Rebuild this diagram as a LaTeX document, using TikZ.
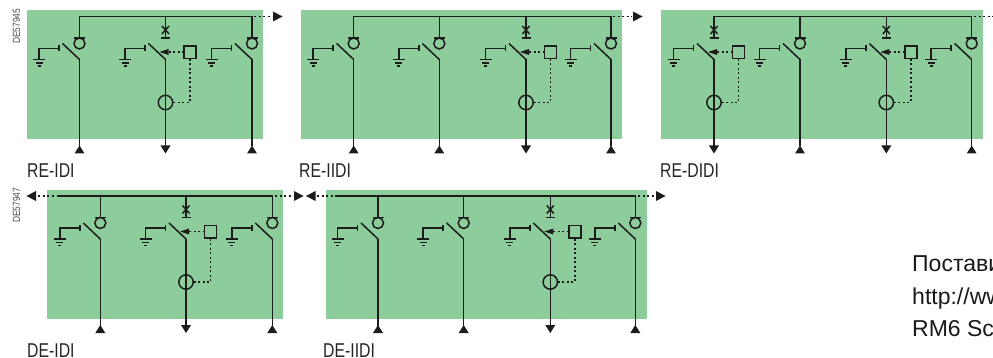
\documentclass[tikz,border=0pt]{standalone}
\usepackage{fontspec}
\setmainfont{Liberation Sans}
\definecolor{panelgreen}{RGB}{141,205,155}
\definecolor{wirecol}{RGB}{28,28,28}
\tikzstyle{panel} = [fill=panelgreen, draw=none]
\tikzstyle{wire} = [line width=1.5pt, draw=wirecol]
\tikzstyle{dots} = [line width=1.5pt, draw=wirecol, dash pattern=on 2pt off 2.5pt]
\tikzstyle{tip} = [fill=wirecol, draw=none]
\tikzstyle{tag} = [anchor=base west, inner sep=0pt, font=\fontsize{20}{20}\selectfont, xscale=0.79, text=black!85]
\tikzstyle{code} = [anchor=west, inner sep=0pt, rotate=90, font=\fontsize{10.5}{10.5}\selectfont, xscale=0.8, text=black!70]
\tikzstyle{note} = [anchor=base west, inner sep=0pt, font=\fontsize{23}{23}\selectfont, text=black!90]
% earth with its open contact
\newcommand{\earth}[2]{
  \draw[wire] (#1-17,#2+27) -- (#1,#2+43);
  \draw[wire] (#1-20.5,#2+32) -- (#1-40.5,#2+32) -- (#1-40.5,#2+42.5);
  \draw[wire] (#1-20.5,#2+29) -- (#1-20.5,#2+35);
  \draw[wire] (#1-46.5,#2+43) -- (#1-34.5,#2+43);
  \draw[wire] (#1-44,#2+46.5) -- (#1-37,#2+46.5);
  \draw[wire] (#1-42,#2+49.7) -- (#1-39,#2+49.7);
}
% load switch unit, #1 is x, #2 is bus y
\newcommand{\loadunit}[2]{
  \earth{#1}{#2}
  \draw[wire] (#1,#2) -- (#1,#2+21.5);
  \draw[wire] (#1-5.5,#2+21.5) -- (#1+5.5,#2+21.5);
  \draw[wire] (#1,#2+27) circle (5.5);
  \draw[wire] (#1,#2+43) -- (#1,#2+130);
  \fill[tip] (#1,#2+129) -- (#1+5,#2+137) -- (#1-5,#2+137) -- cycle;
}
% fuse unit
\newcommand{\fuseunit}[2]{
  \earth{#1}{#2}
  \draw[wire] (#1,#2) -- (#1,#2+21.5);
  \draw[wire] (#1-4.5,#2+21.5) -- (#1+4.5,#2+21.5);
  \draw[wire] (#1-3.5,#2+9.5) -- (#1+3.5,#2+17.5);
  \draw[wire] (#1+3.5,#2+9.5) -- (#1-3.5,#2+17.5);
  \draw[wire] (#1,#2+43) -- (#1,#2+130);
  \draw[wire] (#1,#2+86) circle (7.2);
  \fill[tip] (#1-5,#2+129) -- (#1+5,#2+129) -- (#1,#2+137) -- cycle;
  \fill[tip] (#1-6,#2+35.5) -- (#1+3,#2+32.5) -- (#1+3,#2+38.5) -- cycle;
  \draw[dots] (#1+3,#2+35.5) -- (#1+18,#2+35.5);
  \draw[wire] (#1+18.5,#2+29.5) rectangle (#1+30.5,#2+41.8);
  \draw[dots] (#1+24.5,#2+42.5) -- (#1+24.5,#2+86) -- (#1+7.5,#2+86);
}
\newcommand{\tipright}[2]{\fill[tip] (#1,#2-5) -- (#1+9.5,#2) -- (#1,#2+5) -- cycle;}
\newcommand{\tipleft}[2]{\fill[tip] (#1,#2-5) -- (#1-9.5,#2) -- (#1,#2+5) -- cycle;}

\begin{document}
\begin{tikzpicture}[x=1pt, y=-1pt]
\useasboundingbox (0,0) rectangle (993,358);
\clip (0,0) rectangle (993,358);

% first row
\fill[panel] (27,10) rectangle (263,139);
\fill[panel] (301,10) rectangle (622,139);
\fill[panel] (661,10) rectangle (983,139);
\draw[wire] (79.5,16.5) -- (252,16.5);
\draw[dots] (254,16.5) -- (272,16.5);
\tipright{273}{16.5}
\loadunit{79.5}{16.5}
\fuseunit{165.5}{16.5}
\loadunit{252}{16.5}
\draw[wire] (353.7,16.5) -- (611,16.5);
\draw[dots] (613,16.5) -- (632,16.5);
\tipright{633}{16.5}
\loadunit{353.7}{16.5}
\loadunit{439.3}{16.5}
\fuseunit{526}{16.5}
\loadunit{611}{16.5}
\draw[wire] (714,16.5) -- (971.7,16.5);
\draw[dots] (974,16.5) -- (993,16.5);
\fuseunit{714}{16.5}
\loadunit{800}{16.5}
\fuseunit{886.3}{16.5}
\loadunit{971.7}{16.5}

% second row
\fill[panel] (47,190) rectangle (283,319);
\fill[panel] (326,190) rectangle (647,319);
\draw[wire] (56.7,196) -- (273,196);
\draw[dots] (38,196) -- (55,196);
\draw[dots] (275,196) -- (293,196);
\tipleft{36}{196}
\tipright{294}{196}
\loadunit{100.3}{196}
\fuseunit{186}{196}
\loadunit{272.3}{196}
\draw[wire] (335,196) -- (636,196);
\draw[dots] (317,196) -- (333,196);
\draw[dots] (638,196) -- (655,196);
\tipleft{315.5}{196}
\tipright{656}{196}
\loadunit{378}{196}
\loadunit{463.7}{196}
\fuseunit{550.3}{196}
\loadunit{635.3}{196}

% labels
\node[tag] (tagA) at (27,178) {RE-IDI};
\node[tag] (tagB) at (299,178) {RE-IIDI};
\node[tag] (tagC) at (660,178) {RE-DIDI};
\node[tag] (tagD) at (27,357.5) {DE-IDI};
\node[tag] (tagE) at (323,357.5) {DE-IIDI};
\node[code] (codeA) at (16.5,44) {DE57945};
\node[code] (codeB) at (16.5,223) {DE57947};
\node[note] (noteA) at (912,271.5) {Постави};
\node[note] (noteB) at (912,304) {http://www};
\node[note] (noteC) at (912,336.5) {RM6 Sc};
\end{tikzpicture}
\end{document}
